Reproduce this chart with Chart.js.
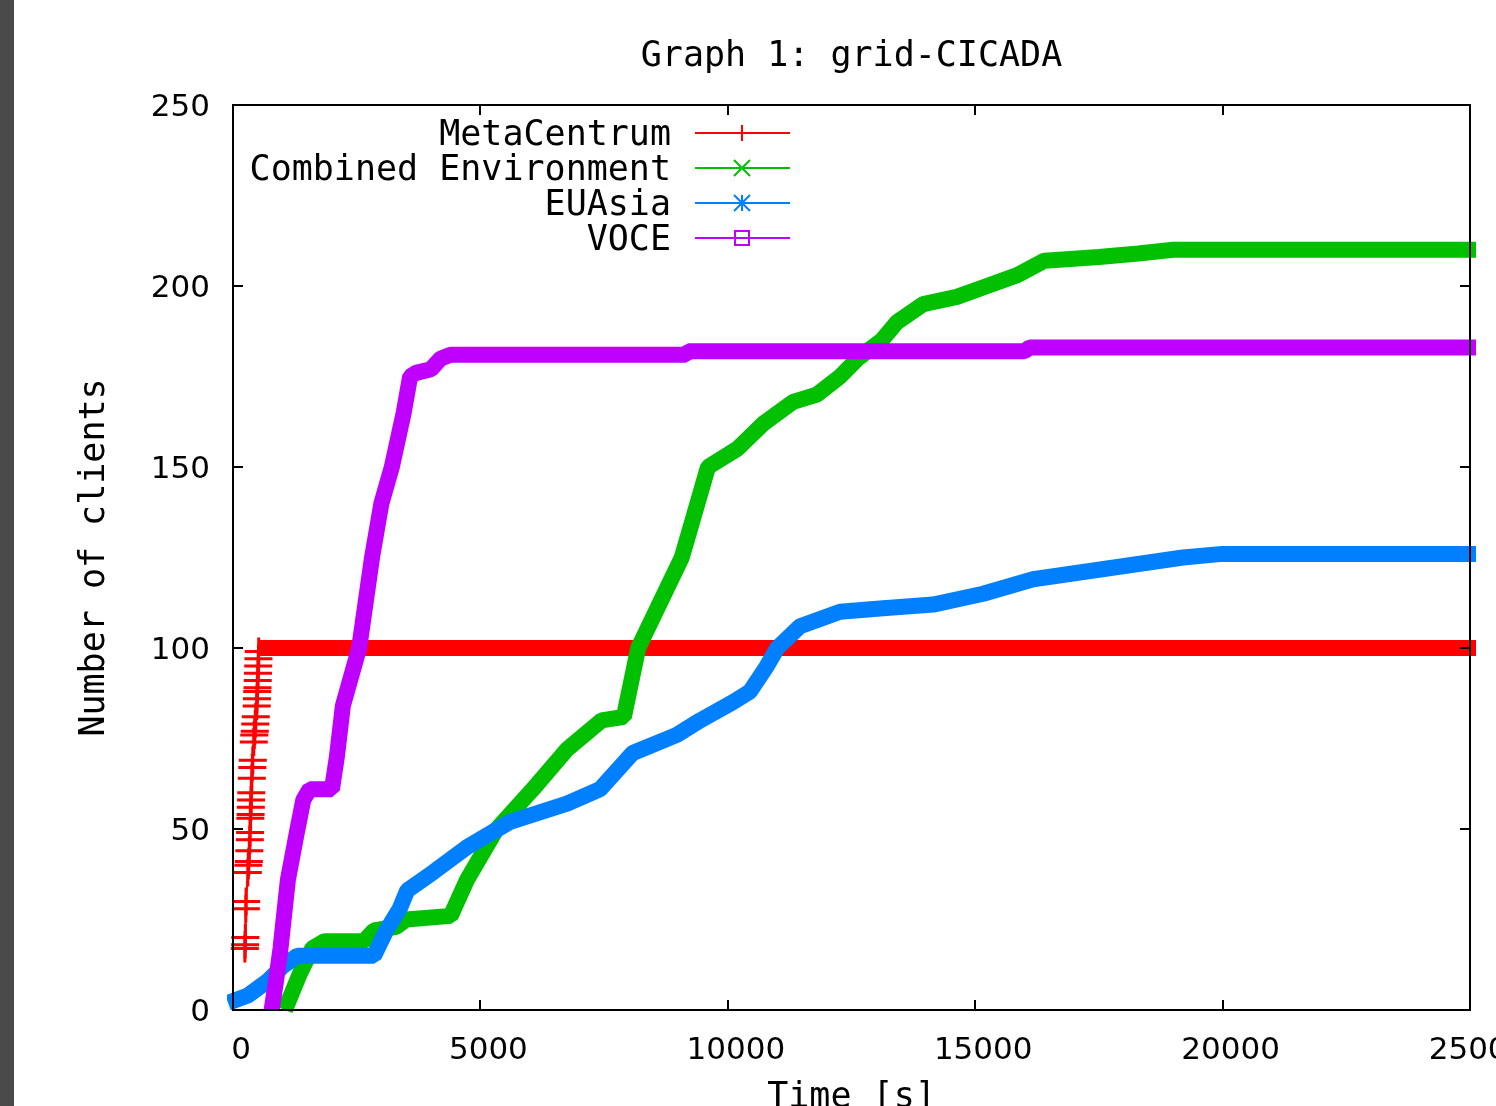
<!DOCTYPE html>
<html>
<head>
<meta charset="utf-8">
<title>Graph 1: grid-CICADA</title>
<script src="https://cdn.jsdelivr.net/npm/chart.js@4.4.1/dist/chart.umd.min.js"></script>
<style>
  html, body { margin: 0; padding: 0; background: #fff; overflow: hidden; width: 1496px; height: 1106px; }
  canvas { position: absolute; left: 0; top: 0; }
  #strip { position: absolute; left: 0; top: 0; width: 14px; height: 1106px; background: #4a4a4a; }
</style>
</head>
<body>
<canvas id="cicada" width="1496" height="1140"></canvas>
<div id="strip"></div>
<script>
// series (time in s, number of clients)
const seriesNames = ['MetaCentrum', 'Combined Environment', 'EUAsia', 'VOCE'];
const seriesColors = ['#ff0000', '#00c000', '#0080ff', '#c000ff'];
const markerShapes = ['plus', 'cross', 'star', 'square'];

const metaTime = [240, 245, 250, 260, 265, 300, 310, 320, 330, 340, 345, 350, 355, 360, 365, 370, 380, 390, 400,
  420, 430, 440, 450, 460, 480, 485, 490, 495, 500, 505, 510, 515, 520, 525, 25150];
const metaClients = [17, 18, 20, 28, 30, 38, 40, 41, 44, 47, 49, 53, 54, 56, 58, 60, 64, 67, 69,
  74, 76, 77, 79, 81, 84, 86, 88, 89, 91, 93, 95, 97, 99, 100, 100];

const combTime = [1050, 1350, 1600, 1850, 2650, 2850, 3300, 3500, 4400, 4730, 5330, 6060, 6750, 7450, 7900, 8190,
  9070, 9600, 10190, 10720, 11320, 11800, 12270, 12630, 13110, 13420, 13950, 14630, 15240, 15850, 16400, 17500,
  18300, 19000, 25150];
const combClients = [0, 10, 17, 19, 19, 22, 23, 25, 26, 36, 50, 61, 72, 80, 81, 100,
  125, 150, 155, 162, 168, 170, 175, 180, 185, 190, 195, 197, 200, 203, 207, 208,
  209, 210, 210];

const euTime = [-100, 300, 700, 1000, 1300, 2850, 3100, 3370, 3520, 4040, 4730, 5600, 6750, 7420, 8080, 8970,
  9440, 10100, 10450, 10790, 11000, 11460, 12270, 13140, 14150, 15160, 16170, 17180, 18190, 19200, 20000, 25150];
const euClients = [2, 4, 8, 12, 15, 15, 22, 28, 33, 38, 45, 52, 57, 61, 71, 76,
  80, 85, 88, 95, 100, 106, 110, 111, 112, 115, 119, 121, 123, 125, 126, 126];

const voceTime = [780, 870, 960, 1110, 1290, 1420, 1550, 2000, 2100, 2220, 2550, 2810, 3000, 3210, 3450, 3580,
  3700, 4000, 4200, 4400, 9150, 9200, 16000, 16100, 25150];
const voceClients = [0, 8, 17, 36, 49, 58, 61, 61, 70, 84, 100, 125, 140, 150, 165, 175,
  176, 177, 180, 181, 181, 182, 182, 183, 183];

const xTicks = [0, 5000, 10000, 15000, 20000, 25000];
const yTicks = [0, 50, 100, 150, 200, 250];

const mono = "'DejaVu Sans Mono', 'Liberation Mono', monospace";
const sans = "'DejaVu Sans', 'Liberation Sans', sans-serif";

function points(t, v) {
  return t.map((x, i) => ({ x: x, y: v[i] }));
}

function series(i, t, v, order) {
  return {
    label: seriesNames[i],
    data: points(t, v),
    borderColor: seriesColors[i],
    backgroundColor: seriesColors[i],
    borderWidth: 16,
    borderJoinStyle: 'bevel',
    borderCapStyle: 'butt',
    pointRadius: 0,
    tension: 0,
    order: order,
    clip: { left: 6, top: 0, right: 6, bottom: 8 }
  };
}

const datasets = [
  series(0, metaTime, metaClients, 3),
  series(1, combTime, combClients, 2),
  series(2, euTime, euClients, 1),
  series(3, voceTime, voceClients, 0)
];
// MetaCentrum's climb is a thin line of + marks, then the thick flat band
datasets[0].segment = { borderWidth: ctx => ctx.p0.parsed.y < 100 ? 2 : 16 };
datasets[0].pointStyle = 'cross';
datasets[0].pointRadius = ctx => (ctx.raw && ctx.raw.y < 100) ? 14 : 0;
datasets[0].pointBorderWidth = 3;
datasets[0].pointBorderColor = seriesColors[0];

function drawMarker(ctx, shape, x, y, r) {
  ctx.beginPath();
  if (shape === 'plus') {
    ctx.moveTo(x, y - r); ctx.lineTo(x, y + r);
  } else if (shape === 'cross') {
    ctx.moveTo(x - r, y - r); ctx.lineTo(x + r, y + r);
    ctx.moveTo(x - r, y + r); ctx.lineTo(x + r, y - r);
  } else if (shape === 'star') {
    ctx.moveTo(x - r, y - r); ctx.lineTo(x + r, y + r);
    ctx.moveTo(x - r, y + r); ctx.lineTo(x + r, y - r);
    ctx.moveTo(x, y - r); ctx.lineTo(x, y + r);
  } else if (shape === 'square') {
    ctx.rect(x - r, y - r, 2 * r, 2 * r);
  }
  ctx.stroke();
}

// gnuplot style frame, inward mirrored ticks and key
const gnuplotFrame = {
  id: 'gnuplotFrame',
  afterDatasetsDraw(chart) {
    const { ctx, chartArea: a, scales: { x, y } } = chart;
    ctx.save();
    ctx.strokeStyle = '#000';
    ctx.lineWidth = 2;
    ctx.strokeRect(a.left, a.top, a.right - a.left, a.bottom - a.top);
    ctx.beginPath();
    xTicks.forEach(v => {
      const px = Math.round(x.getPixelForValue(v));
      ctx.moveTo(px, a.bottom); ctx.lineTo(px, a.bottom - 10);
      ctx.moveTo(px, a.top); ctx.lineTo(px, a.top + 10);
    });
    yTicks.forEach(v => {
      const py = Math.round(y.getPixelForValue(v));
      ctx.moveTo(a.left, py); ctx.lineTo(a.left + 10, py);
      ctx.moveTo(a.right, py); ctx.lineTo(a.right - 10, py);
    });
    ctx.stroke();

    ctx.font = '35px ' + mono;
    ctx.textAlign = 'right';
    ctx.textBaseline = 'middle';
    seriesNames.forEach((name, i) => {
      const ly = 133 + i * 35;
      ctx.fillStyle = '#000';
      ctx.fillText(name, 671, ly + 3);
      ctx.strokeStyle = seriesColors[i];
      ctx.lineWidth = 2;
      ctx.beginPath();
      ctx.moveTo(695, ly); ctx.lineTo(790, ly);
      ctx.stroke();
      drawMarker(ctx, markerShapes[i], 742, ly, i === 3 ? 7 : 8);
    });
    ctx.restore();
  }
};

const config = {
  type: 'line',
  data: { datasets: datasets },
  options: {
    responsive: false,
    animation: false,
    devicePixelRatio: 1,
    layout: { padding: { left: 60, right: 26, top: 0, bottom: 0 } },
    plugins: {
      legend: { display: false },
      tooltip: { enabled: false },
      title: {
        display: true,
        fullSize: false,
        text: 'Graph 1: grid-CICADA',
        color: '#000',
        font: { family: mono, size: 35, weight: 'normal', lineHeight: 1.2 },
        padding: { top: 36, bottom: 27 }
      }
    },
    scales: {
      x: {
        type: 'linear',
        min: 0,
        max: 25000,
        grid: { display: false, drawTicks: false },
        border: { display: false },
        ticks: {
          stepSize: 5000,
          autoSkip: false,
          maxRotation: 0,
          padding: 22,
          labelOffset: 8,
          color: '#000',
          font: { family: sans, size: 31 },
          callback: v => String(v)
        },
        title: {
          display: true,
          text: 'Time [s]',
          color: '#000',
          font: { family: mono, size: 35, lineHeight: 1.2 },
          padding: { top: 0, bottom: 21 }
        },
        afterFit: s => { s.height = 130; s.paddingLeft = 0; s.paddingRight = 0; }
      },
      y: {
        min: 0,
        max: 250,
        grid: { display: false, drawTicks: false },
        border: { display: false },
        ticks: {
          stepSize: 50,
          padding: 23,
          labelOffset: 3,
          color: '#000',
          font: { family: sans, size: 31 }
        },
        title: {
          display: true,
          text: 'Number of clients',
          color: '#000',
          font: { family: mono, size: 35, lineHeight: 1.2 },
          padding: { top: 14, bottom: 0 }
        },
        afterFit: s => { s.width = 173; s.paddingTop = 0; s.paddingBottom = 0; }
      }
    }
  },
  plugins: [gnuplotFrame]
};

const chart = new Chart(document.getElementById('cicada'), config);
</script>
</body>
</html>
